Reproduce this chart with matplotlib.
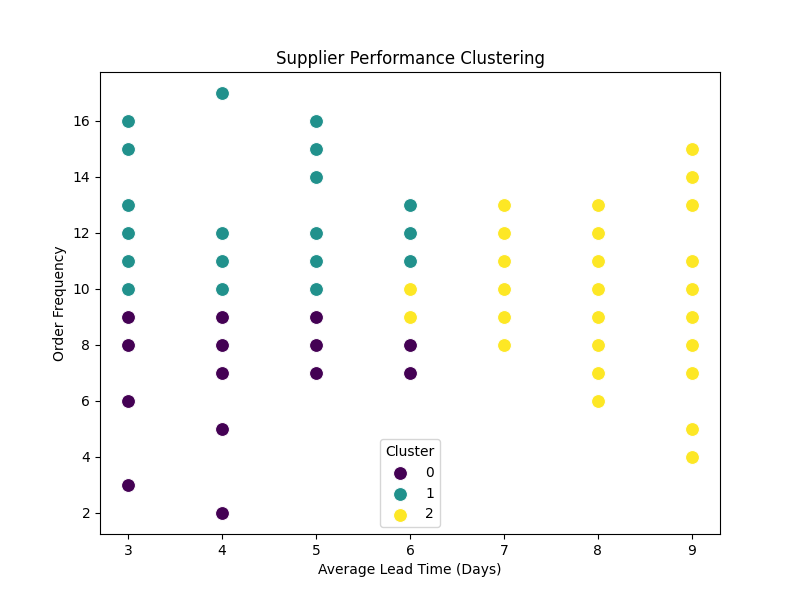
import numpy as np
import matplotlib
matplotlib.use("Agg")
import matplotlib.pyplot as plt

# lead time (days) per point
lead_time = [3, 3, 3, 3, 3, 3, 3, 3, 3, 3,
             4, 4, 4, 4, 4, 4, 4, 4, 4,
             5, 5, 5, 5, 5, 5, 5, 5, 5,
             6, 6, 6, 6, 6, 6, 6,
             7, 7, 7, 7, 7, 7,
             8, 8, 8, 8, 8, 8, 8, 8,
             9, 9, 9, 9, 9, 9, 9, 9, 9, 9]
order_freq = [16, 15, 13, 12, 11, 10, 9, 8, 6, 3,
              17, 12, 11, 10, 9, 8, 7, 5, 2,
              16, 15, 14, 12, 11, 10, 9, 8, 7,
              13, 12, 11, 10, 9, 8, 7,
              13, 12, 11, 10, 9, 8,
              13, 12, 11, 10, 9, 8, 7, 6,
              15, 14, 13, 11, 10, 9, 8, 7, 5, 4]
cluster = [1, 1, 1, 1, 1, 1, 0, 0, 0, 0,
           1, 1, 1, 1, 0, 0, 0, 0, 0,
           1, 1, 1, 1, 1, 1, 0, 0, 0,
           1, 1, 1, 2, 2, 0, 0,
           2, 2, 2, 2, 2, 2,
           2, 2, 2, 2, 2, 2, 2, 2,
           2, 2, 2, 2, 2, 2, 2, 2, 2, 2]

x = np.array(lead_time)
y = np.array(order_freq)
c = np.array(cluster)

colors = {0: "#440154", 1: "#21918c", 2: "#fde725"}

fig, ax = plt.subplots(figsize=(8, 6), dpi=100)
for k in [0, 1, 2]:
    m = c == k
    ax.scatter(x[m], y[m], s=100, color=colors[k], edgecolors="white",
               linewidths=0.75, label=str(k))

ax.set_title("Supplier Performance Clustering")
ax.set_xlabel("Average Lead Time (Days)")
ax.set_ylabel("Order Frequency")
ax.legend(title="Cluster", loc="lower center")

fig.savefig("out.png", dpi=100)
